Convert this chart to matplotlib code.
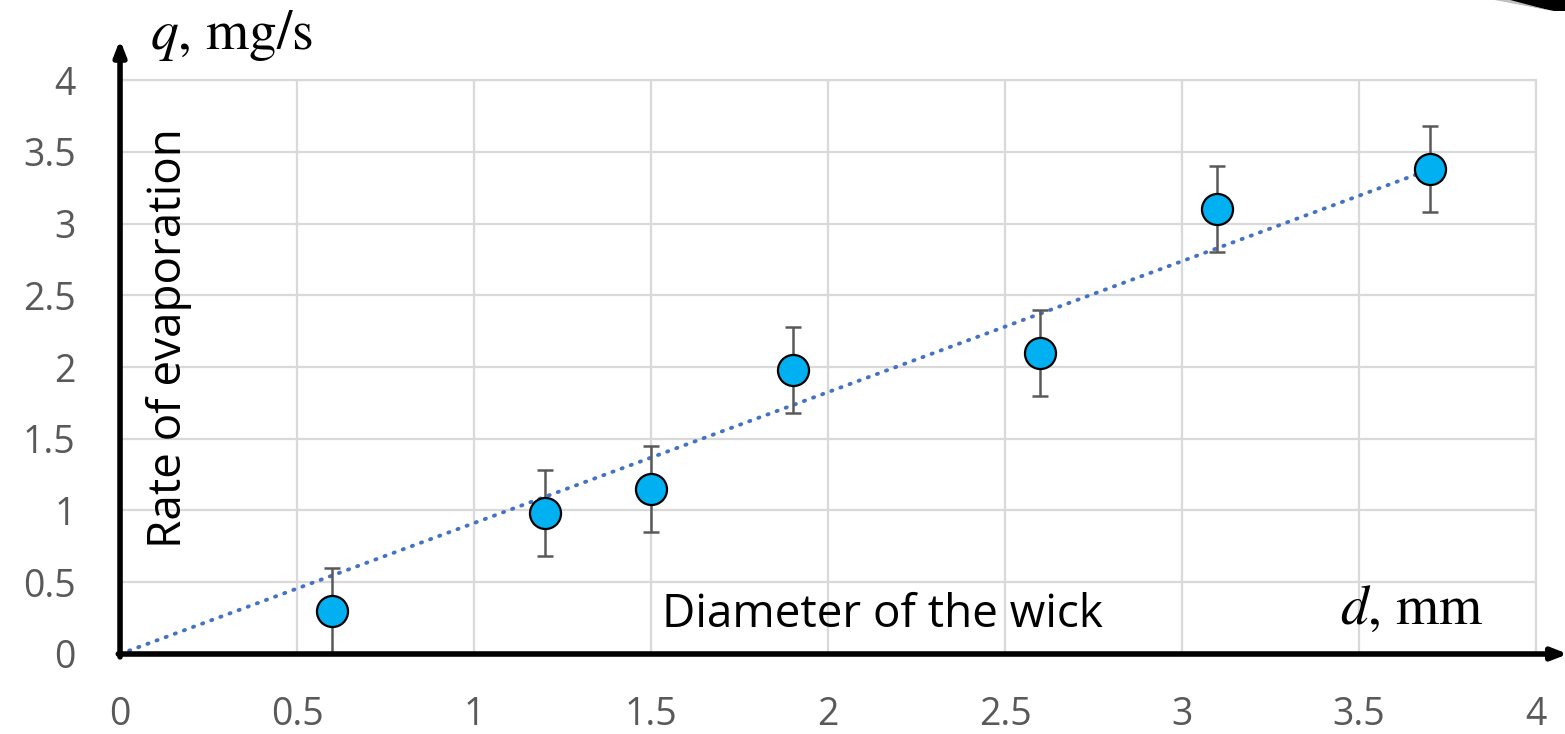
import numpy as np
import matplotlib.pyplot as plt
from matplotlib.patches import Polygon

plt.rcParams['font.family'] = ['Open Sans', 'DejaVu Sans']
plt.rcParams['mathtext.fontset'] = 'stix'

diameter = [0.6, 1.2, 1.5, 1.9, 2.6, 3.1, 3.7]
rate = [0.3, 0.98, 1.15, 1.98, 2.1, 3.1, 3.38]
err = [0.3, 0.3, 0.3, 0.3, 0.3, 0.3, 0.3]
ticks = [0, 0.5, 1, 1.5, 2, 2.5, 3, 3.5, 4]
tick_labels = ['0', '0.5', '1', '1.5', '2', '2.5', '3', '3.5', '4']

x = np.array(diameter)
y = np.array(rate)
# linear trendline forced through the origin
slope = np.sum(x * y) / np.sum(x * x)

fig = plt.figure(figsize=(15.65, 7.34), dpi=100)
ax = fig.add_axes([0.0767, 0.109, 0.9048, 0.782])

ax.set_xlim(0, 4)
ax.set_ylim(0, 4)
ax.set_xticks(ticks)
ax.set_yticks(ticks)
ax.set_xticklabels(tick_labels)
ax.set_yticklabels(tick_labels)
ax.tick_params(length=0, labelsize=27, labelcolor='#595959')
ax.tick_params(axis='x', pad=30)
ax.tick_params(axis='y', pad=32)
ax.grid(True, color='#d9d9d9', linewidth=1.6)
ax.set_axisbelow(True)
for s in ['top', 'right']:
    ax.spines[s].set_color('#d9d9d9')
    ax.spines[s].set_linewidth(1.6)
for s in ['left', 'bottom']:
    ax.spines[s].set_visible(False)

xs = np.array([0, 3.7])
ax.plot(xs, slope * xs, linestyle=(0, (0.3, 2.2)), color='#4472c4',
        linewidth=2.8, dash_capstyle='round', zorder=3)

ax.errorbar(diameter, rate, yerr=err, fmt='none', ecolor='#595959',
            elinewidth=1.8, capsize=6, capthick=1.8, zorder=4, clip_on=True)
ax.scatter(diameter, rate, s=500, color='#00b0f0', edgecolor='black',
           linewidth=1.6, zorder=5)

# axis arrows
arrow = dict(arrowstyle='-|>,head_length=0.9,head_width=0.35', color='black',
             linewidth=4, shrinkA=0, shrinkB=0)
ax.annotate('', xy=(4.09, 0), xytext=(-0.005, 0), arrowprops=arrow,
            annotation_clip=False, zorder=6)
ax.annotate('', xy=(0, 4.28), xytext=(0, -0.02), arrowprops=arrow,
            annotation_clip=False, zorder=6)

ax.text(0.137, 2.2, 'Rate of evaporation', rotation=90, fontsize=33,
        ha='center', va='center')
ax.text(1.53, 0.27, 'Diameter of the wick', fontsize=33, ha='left', va='center')
ax.text(0.085, 4.31, r'$q$, mg/s', fontsize=40, family='STIXGeneral',
        ha='left', va='center')
ax.text(3.65, 0.3, r'$d$, mm', fontsize=40, family='STIXGeneral',
        ha='center', va='center')

# stray shape in the top right corner of the original
fig.patches.append(Polygon([[0.958, 1.0], [1.0, 1.0], [1.0, 0.985], [0.993, 0.985]],
                           closed=True, transform=fig.transFigure,
                           facecolor='black', edgecolor='none'))
fig.patches.append(Polygon([[0.955, 1.0], [0.965, 1.0], [0.99, 0.986]],
                           closed=True, transform=fig.transFigure,
                           facecolor='#bfbfbf', edgecolor='none'))

fig.savefig('out.png', dpi=100)
